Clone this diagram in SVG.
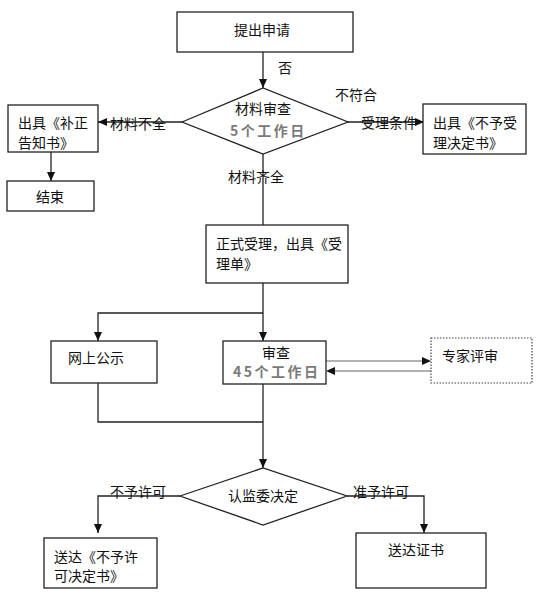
<svg xmlns="http://www.w3.org/2000/svg" width="551" height="592" viewBox="0 0 551 592">
<style>
.box{fill:#fff;stroke:#222;stroke-width:1.3}
.dot{fill:#fff;stroke:#444;stroke-width:1.2;stroke-dasharray:1.5 1.5}
.ln{fill:none;stroke:#222;stroke-width:1.3}
.gl{fill:none;stroke:#999;stroke-width:1.6}
text{font-family:"Noto Sans CJK SC","Liberation Sans",sans-serif;font-size:14px;fill:#111;dominant-baseline:central}
.g{fill:#7a7a7a;font-weight:bold;letter-spacing:2.5px}
.m{text-anchor:middle}
</style>
<defs>
<marker id="ah" markerWidth="9" markerHeight="8" refX="9" refY="4" orient="auto" markerUnits="userSpaceOnUse">
<path d="M0,0 L9,4 L0,8 Z" fill="#111"/>
</marker>
</defs>
<rect width="551" height="592" fill="#fff"/>
<g id="connectors">
<path class="ln" d="M263,52 V88" marker-end="url(#ah)"/>
<path class="ln" d="M182,122 H98" marker-end="url(#ah)"/>
<path class="ln" d="M348,122 H424" marker-end="url(#ah)"/>
<path class="ln" d="M51,152 V181" marker-end="url(#ah)"/>
<path class="ln" d="M263,154 V225"/>
<path class="ln" d="M263,283 V341" marker-end="url(#ah)"/>
<path class="ln" d="M263,313 H98 V341" marker-end="url(#ah)"/>
<path class="gl" d="M326,361 H422"/>
<path d="M422,357 L431,361 L422,365 Z" fill="#111"/>
<path class="gl" d="M431,371 H335"/>
<path d="M335,367 L326,371 L335,375 Z" fill="#111"/>
<path class="ln" d="M98,383 V422 H263"/>
<path class="ln" d="M263,384 V468" marker-end="url(#ah)"/>
<path class="ln" d="M180,496 H98 V533" marker-end="url(#ah)"/>
<path class="ln" d="M347,496 H424 V533" marker-end="url(#ah)"/>
<text x="278" y="67">否</text>
<text x="110" y="123">材料不全</text>
<text x="335" y="94">不符合</text>
<text x="361" y="122">受理条件</text>
<text x="228" y="176">材料齐全</text>
<text x="110" y="491">不予许可</text>
<text x="353" y="491">准予许可</text>
</g>
<g id="n1"><rect class="box" x="177" y="12" width="176" height="40"/><text class="m" x="262" y="29">提出申请</text></g>
<g id="n2"><path class="box" d="M182,122 L263,88 L348,122 L263,154 Z"/><text class="m" x="263" y="108">材料审查</text><text class="g" x="230" y="130">5个工作日</text></g>
<g id="n3"><rect class="box" x="8" y="105" width="90" height="47"/><text x="18" y="122">出具《补正</text><text x="18" y="142">告知书》</text></g>
<g id="n4"><rect class="box" x="7" y="181" width="87" height="30"/><text class="m" x="50" y="196">结束</text></g>
<g id="n5"><rect class="box" x="423" y="104" width="103" height="50"/><text x="433" y="122">出具《不予受</text><text x="433" y="142">理决定书》</text></g>
<g id="n6"><rect class="box" x="206" y="225" width="142" height="58"/><text x="216" y="243">正式受理，出具《受</text><text x="216" y="263">理单》</text></g>
<g id="n7"><rect class="box" x="51" y="341" width="106" height="42"/><text x="68" y="357">网上公示</text></g>
<g id="n8"><rect class="box" x="223" y="341" width="103" height="43"/><text class="m" x="276" y="352">审查</text><text class="g" x="233" y="371">45个工作日</text></g>
<g id="n9"><rect class="dot" x="431" y="338" width="101" height="45"/><text x="442" y="355">专家评审</text></g>
<g id="n10"><path class="box" d="M180,496 L263,468 L347,496 L263,525 Z"/><text class="m" x="263" y="495">认监委决定</text></g>
<g id="n11"><rect class="box" x="44" y="538" width="113" height="50"/><text x="54" y="556">送达《不予许</text><text x="54" y="575">可决定书》</text></g>
<g id="n12"><rect class="box" x="356" y="533" width="130" height="55"/><text class="m" x="416" y="549">送达证书</text></g>
</svg>
